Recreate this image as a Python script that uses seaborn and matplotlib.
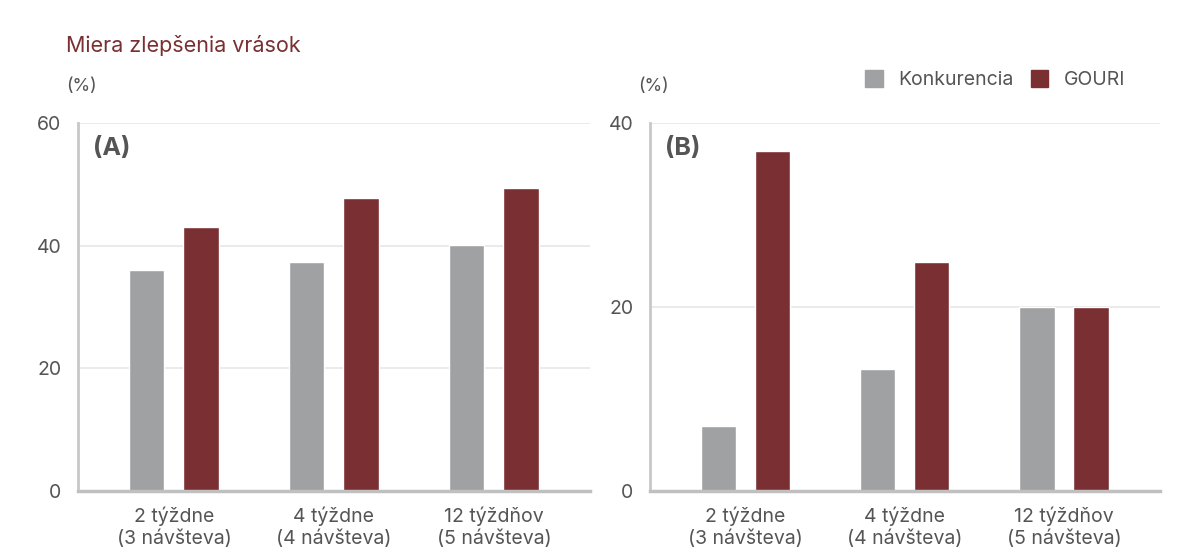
import matplotlib
matplotlib.use('Agg')
from matplotlib import pyplot as plt
from matplotlib.patches import Patch
import pandas as pd
import seaborn as sns

sns.set_style('white')
plt.rcParams['font.family'] = ['Inter', 'DejaVu Sans']

categories = ['2 týždne\n(3 návšteva)', '4 týždne\n(4 návšteva)', '12 týždňov\n(5 návšteva)']
series = ['Konkurencia', 'GOURI']
konk_a = [36, 37.3, 40.2]
gouri_a = [43, 47.8, 49.4]
konk_b = [7.1, 13.3, 20]
gouri_b = [37, 24.9, 20]
colors = ['#a0a1a3', '#7a3032']
TEXT = '#555555'

def frame(konk, gouri):
    return pd.DataFrame({
        'cat': categories * 2,
        'series': [series[0]] * 3 + [series[1]] * 3,
        'val': konk + gouri,
    })

fig = plt.figure(figsize=(11.82, 5.54), dpi=100)
ax_a = fig.add_axes([0.066, 0.1137, 0.433, 0.664])
ax_b = fig.add_axes([0.55, 0.1137, 0.431, 0.664])

def plot(ax, df, ymax, step, tag):
    sns.barplot(data=df, x='cat', y='val', hue='series', hue_order=series,
                palette=colors, width=0.68, gap=0.35, ax=ax, saturation=1)
    ax.set_ylim(0, ymax)
    ax.set_xlim(-0.6, 2.6)
    ax.set_yticks(range(0, ymax + 1, step))
    ax.set_xlabel('')
    ax.set_ylabel('')
    ax.grid(axis='y', color='#e6e6e6', linewidth=1.2)
    ax.set_axisbelow(True)
    for s in ['top', 'right']:
        ax.spines[s].set_visible(False)
    ax.spines['left'].set_color('#c8c8c8')
    ax.spines['left'].set_linewidth(2)
    ax.spines['bottom'].set_color('#c0c0c0')
    ax.spines['bottom'].set_linewidth(2.5)
    ax.tick_params(axis='both', length=0, labelsize=14, colors=TEXT)
    ax.tick_params(axis='y', pad=12)
    ax.tick_params(axis='x', pad=11)
    for lbl in ax.get_xticklabels():
        lbl.set_linespacing(1.25)
    ax.text(0.03, 0.93, tag, transform=ax.transAxes, fontsize=18,
            fontweight='bold', color=TEXT, va='center', ha='left')
    ax.get_legend().remove()

plot(ax_a, frame(konk_a, gouri_a), 60, 20, '(A)')
plot(ax_b, frame(konk_b, gouri_b), 40, 20, '(B)')

fig.text(0.056, 0.918, 'Miera zlepšenia vrások', color='#7a3032',
         fontsize=15.5, va='center', ha='left')
fig.text(0.056, 0.843, '(%)', color=TEXT, fontsize=13, va='center', ha='left')
fig.text(0.54, 0.843, '(%)', color=TEXT, fontsize=13, va='center', ha='left')

handles = [Patch(color=c) for c in colors]
fig.legend(handles, series, loc='center right', bbox_to_anchor=(0.967, 0.856),
           ncol=2, frameon=False, fontsize=14, handlelength=0.9,
           handleheight=0.9, handletextpad=0.8, columnspacing=0.9,
           labelcolor=TEXT)

plt.savefig('out.png', dpi=100)
